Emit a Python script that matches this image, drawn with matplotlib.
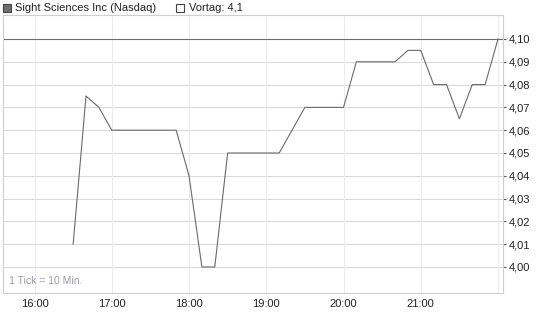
import matplotlib
matplotlib.use("Agg")
import matplotlib.pyplot as plt
from matplotlib.patches import Rectangle

plt.rcParams["font.family"] = ["Liberation Sans", "DejaVu Sans"]

# Kurs in 10-Minuten-Schritten
times = ["16:30", "16:40", "16:50", "17:00", "17:10", "17:20", "17:30", "17:40",
         "17:50", "18:00", "18:10", "18:20", "18:30", "18:40", "18:50", "19:00",
         "19:10", "19:20", "19:30", "19:40", "19:50", "20:00", "20:10", "20:20",
         "20:30", "20:40", "20:50", "21:00", "21:10", "21:20", "21:30", "21:40",
         "21:50", "22:00"]
prices = [4.01, 4.075, 4.07, 4.06, 4.06, 4.06, 4.06, 4.06,
          4.06, 4.04, 4.00, 4.00, 4.05, 4.05, 4.05, 4.05,
          4.05, 4.06, 4.07, 4.07, 4.07, 4.07, 4.09, 4.09,
          4.09, 4.09, 4.095, 4.095, 4.08, 4.08, 4.065, 4.08,
          4.08, 4.10]
prev_close = 4.10
x_ticks = [16, 17, 18, 19, 20, 21]
y_ticks = [4.00, 4.01, 4.02, 4.03, 4.04, 4.05, 4.06, 4.07, 4.08, 4.09, 4.10]


def to_hours(t):
    h, m = t.split(":")
    return int(h) + int(m) / 60


hours = [to_hours(t) for t in times]

fig = plt.figure(figsize=(5.45, 3.27), dpi=100)
ax = fig.add_axes([0.005, 0.104, 0.918, 0.85])

ax.set_xlim(15 + 35.3 / 60, 22 + 3.9 / 60)
ax.set_ylim(3.9886, 4.1105)

for y in y_ticks:
    ax.axhline(y, color="#d9d9d9", lw=0.75, zorder=1)
for x in x_ticks + [22]:
    ax.axvline(x, color="#ececec", lw=0.75, zorder=1)

ax.axhline(prev_close, color="#6e6e6e", lw=0.8, zorder=2)
ax.plot(hours, prices, color="#6a6a6a", lw=0.8, zorder=3)

for s in ax.spines.values():
    s.set_color("#cfcfcf")
    s.set_linewidth(0.8)

ax.set_xticks(x_ticks)
ax.set_xticklabels([f"{h}:00" for h in x_ticks])
ax.tick_params(axis="x", length=0, pad=4, labelsize=8, colors="#222222")

ax.yaxis.tick_right()
ax.set_yticks(y_ticks)
ax.set_yticklabels([f"{v:.2f}".replace(".", ",") for v in y_ticks])
ax.tick_params(axis="y", length=2, width=0.8, color="#555555", pad=2,
               labelsize=8, labelcolor="#222222")

ax.text(0.012, 0.025, "1 Tick = 10 Min.", transform=ax.transAxes,
        fontsize=7.5, color="#9a9aa6", ha="left", va="bottom")

# Legende oben
fig.patches.append(Rectangle((3 / 545, 1 - 12 / 327), 8 / 545, 8 / 327,
                             transform=fig.transFigure, facecolor="#707070",
                             edgecolor="#444444", lw=0.8))
fig.text(15 / 545, 1 - 8 / 327, "Sight Sciences Inc (Nasdaq)", fontsize=8,
         va="center", ha="left", color="#222222")
fig.patches.append(Rectangle((176 / 545, 1 - 12 / 327), 8 / 545, 8 / 327,
                             transform=fig.transFigure, facecolor="white",
                             edgecolor="#444444", lw=0.8))
fig.text(189 / 545, 1 - 8 / 327, "Vortag: 4,1", fontsize=8,
         va="center", ha="left", color="#222222")

fig.savefig("out.png", dpi=100)
